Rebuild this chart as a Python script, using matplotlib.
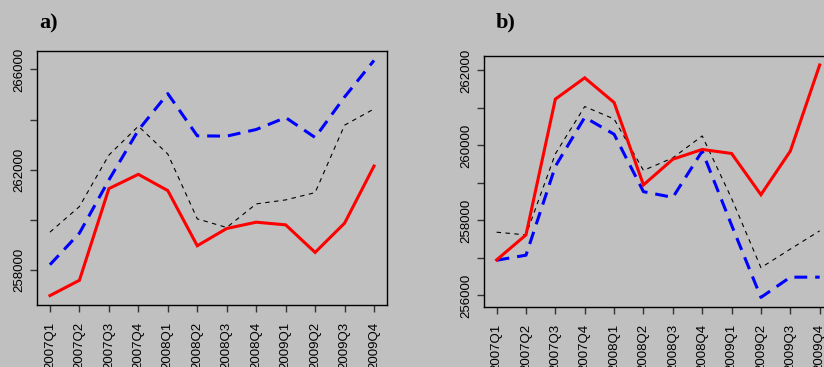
import matplotlib
matplotlib.use("Agg")
import matplotlib.pyplot as plt
from matplotlib.ticker import MultipleLocator, FuncFormatter
import numpy as np

quarters = ["2007Q1", "2007Q2", "2007Q3", "2007Q4", "2008Q1", "2008Q2",
            "2008Q3", "2008Q4", "2009Q1", "2009Q2", "2009Q3", "2009Q4"]

a_red = [256980, 257590, 261245, 261815, 261166, 258967,
         259656, 259907, 259801, 258702, 259868, 262146]
a_blue = [258212, 259470, 261589, 263576, 265033, 263351,
          263338, 263603, 264079, 263285, 264901, 266358]
a_black = [259510, 260530, 262583, 263735, 262623, 260040,
           259695, 260636, 260795, 261086, 263775, 264424]

b_red = [256946, 257613, 261234, 261802, 261144, 258946,
         259631, 259892, 259784, 258685, 259847, 262144]
b_blue = [256937, 257072, 259441, 260748, 260297, 258766,
          258613, 259847, 257874, 255946, 256486, 256486]
b_black = [257685, 257613, 259775, 261036, 260703, 259333,
           259667, 260252, 258586, 256739, 257234, 257721]

BG = "#c0c0c0"
fig = plt.figure(figsize=(8.24, 3.67), dpi=100, facecolor=BG)

W, H = 824, 367


def make_axes(left, right, top, bottom):
    return fig.add_axes([left / W, (H - bottom) / H, (right - left) / W, (bottom - top) / H])


ax_a = make_axes(37, 387, 51, 305)
ax_b = make_axes(483.7, 832.6, 55.7, 306.7)


def draw(ax, red, blue, black, major, label_base, minor, label, lx, ly):
    x = np.arange(len(quarters))
    ax.set_facecolor(BG)
    ax.plot(x, black, color="black", lw=0.8, linestyle=(0, (4, 4)))
    ax.plot(x, blue, color="#0000ff", lw=2.2, linestyle=(0, (4.2, 2.6)))
    ax.plot(x, red, color="#ff0000", lw=2.2, solid_joinstyle="miter")
    allv = np.concatenate([red, blue, black])
    lo, hi = allv.min(), allv.max()
    pad = 0.04 * (hi - lo)
    ax.set_ylim(lo - pad, hi + pad)
    ax.set_xlim(-0.44, len(quarters) - 1 + 0.44)
    ax.set_xticks(x)
    ax.set_xticklabels(quarters, rotation=90, fontsize=9.5, family="Liberation Sans",
                       va="top")
    ax.yaxis.set_major_locator(MultipleLocator(minor))
    ax.yaxis.set_major_formatter(FuncFormatter(
        lambda v, p: "%d" % v if round(v - label_base) % major == 0 else ""))
    for t in ax.get_yticklabels():
        t.set_rotation(90)
        t.set_verticalalignment("center")
        t.set_family("Liberation Sans")
        t.set_fontsize(9.5)
    ax.tick_params(axis="both", length=5.2, width=1, color="#333333")
    ax.tick_params(axis="y", pad=3)
    ax.tick_params(axis="x", pad=7)
    for s in ax.spines.values():
        s.set_linewidth(1)
    fig.text(lx / W, (H - ly) / H, label, fontsize=16, fontweight="bold",
             family="Liberation Serif", ha="left", va="center")


draw(ax_a, a_red, a_blue, a_black, 4000, 258000, 2000, "a)", 39, 23)
draw(ax_b, b_red, b_blue, b_black, 2000, 256000, 1000, "b)", 496, 22)

fig.savefig("out.png", dpi=100, facecolor=BG)
